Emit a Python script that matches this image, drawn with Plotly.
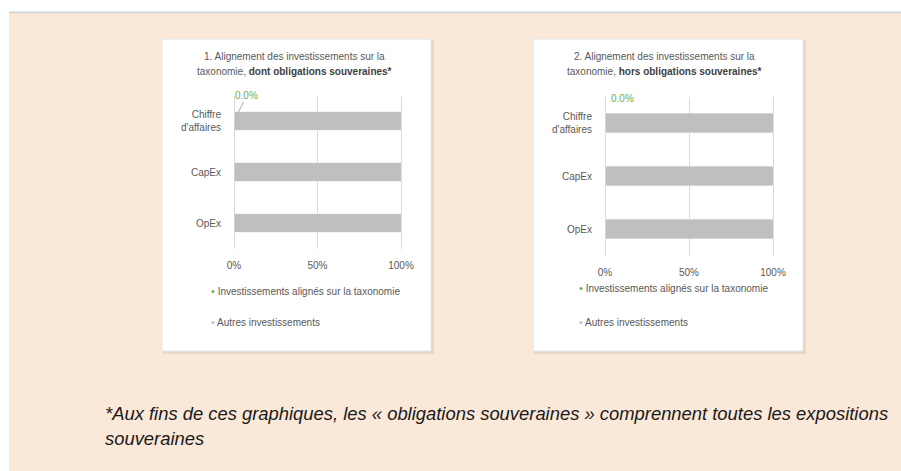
import plotly.graph_objects as go

# ---- data ----
categories = ["Chiffre<br>d'affaires", "CapEx", "OpEx"]
aligned_1 = [0.0, 0.0, 0.0]
others_1 = [1.0, 1.0, 1.0]
aligned_2 = [0.0, 0.0, 0.0]
others_2 = [1.0, 1.0, 1.0]
tick_vals = [0, 0.5, 1]
tick_text = ["0%", "50%", "100%"]
series_names = ["Investissements alignés sur la taxonomie", "Autres investissements"]
title_1 = ["1. Alignement des investissements sur la", "taxonomie, ", "dont obligations souveraines*"]
title_2 = ["2. Alignement des investissements sur la", "taxonomie, ", "hors obligations souveraines*"]
footnote = ["*Aux fins de ces graphiques, les « obligations souveraines » comprennent toutes les expositions",
            "souveraines"]

W, H = 901, 471
GREEN = "#70AD47"
GREY = "#BFBFBF"
TXT = "#595959"
BG = "#FAE8D8"
FONT = "Liberation Sans"
PAD = 0.02  # axis range padding so edge gridlines are drawn


def fx(x):
    return x / W


def fy(y):
    return 1 - y / H


fig = go.Figure()

panels = [
    dict(box=(162, 39, 431, 351), xd=(234, 401), yd=(95.5, 248.5), tc=294,
         lx=171, ly=277, gap=12, al=aligned_1, ot=others_1, title=title_1, arrow=True),
    dict(box=(533, 39, 803, 351), xd=(605, 773), yd=(96.5, 255.5), tc=664,
         lx=539, ly=274, gap=15, al=aligned_2, ot=others_2, title=title_2, arrow=False),
]

shapes = []
annotations = []
# beige area, grey top rule (paper itself is white)
shapes.append(dict(type="rect", xref="paper", yref="paper", x0=fx(9), x1=1, y0=0, y1=fy(13.5),
                   fillcolor=BG, line=dict(width=0), layer="below"))
shapes.append(dict(type="rect", xref="paper", yref="paper", x0=fx(9), x1=1, y0=fy(13.5), y1=fy(11.5),
                   fillcolor="#D6D6D6", line=dict(width=0), layer="below"))

for i, p in enumerate(panels):
    n = "" if i == 0 else str(i + 1)
    xa, ya = "x" + n, "y" + n
    lg = "legend" if i == 0 else "legend2"
    x0, y0, x1, y1 = p["box"]
    # shadow and panel
    shapes.append(dict(type="rect", xref="paper", yref="paper", x0=fx(x0 + 1), x1=fx(x1 + 3),
                       y0=fy(y1 + 3), y1=fy(y0 + 1), fillcolor="rgba(0,0,0,0.07)", line=dict(width=0),
                       layer="below"))
    shapes.append(dict(type="rect", xref="paper", yref="paper", x0=fx(x0), x1=fx(x1),
                       y0=fy(y1), y1=fy(y0), fillcolor="white", line=dict(color="#E6E6E6", width=1),
                       layer="below"))

    fig.add_trace(go.Bar(y=categories, x=p["al"], orientation="h", marker_color=GREEN,
                         xaxis=xa, yaxis=ya, showlegend=False, name=series_names[0]))
    fig.add_trace(go.Bar(y=categories, x=p["ot"], orientation="h", marker_color=GREY,
                         xaxis=xa, yaxis=ya, showlegend=False, name=series_names[1]))
    # legend entries
    for nm, col in [(series_names[0], GREEN), (series_names[1], GREY)]:
        fig.add_trace(go.Scatter(x=[None], y=[None], mode="markers",
                                 marker=dict(color="rgba(0,0,0,0)", size=1),
                                 xaxis=xa, yaxis=ya, legend=lg, legendgroup=nm + n,
                                 name=f'<span style="color:{col};font-size:11px">•</span> {nm}'))

    span = p["xd"][1] - p["xd"][0]
    dom = [fx(p["xd"][0] - PAD * span), fx(p["xd"][1] + PAD * span)]
    fig.layout[("xaxis" + n)] = dict(domain=dom, range=[-PAD, 1 + PAD],
                                     anchor=ya, tickvals=tick_vals, ticktext=tick_text, automargin=False,
                                     showgrid=True, gridcolor="#D9D9D9", gridwidth=1, zeroline=False,
                                     showline=False, ticks="outside", ticklen=7,
                                     tickcolor="rgba(0,0,0,0)", tickfont=dict(size=10, color=TXT, family=FONT),
                                     fixedrange=True)
    fig.layout[("yaxis" + n)] = dict(domain=[fy(p["yd"][1]), fy(p["yd"][0])], anchor=xa, automargin=False,
                                     autorange="reversed", showgrid=False, zeroline=False, showline=False,
                                     ticks="outside", ticklen=10 - PAD * span, tickcolor="rgba(0,0,0,0)",
                                     tickfont=dict(size=10, color=TXT, family=FONT), fixedrange=True)

    # data label of aligned share on first category
    lab = dict(x=p["al"][0], y=categories[0], xref=xa, yref=ya,
               text=f"{p['al'][0] * 100:.1f}%", font=dict(size=10, color=GREEN, family=FONT))
    if p["arrow"]:
        lab.update(showarrow=True, arrowhead=0, arrowwidth=1, arrowcolor="#A6A6A6",
                   ax=13, ay=-26, standoff=9)
    else:
        lab.update(showarrow=False, xshift=17, yshift=25)
    annotations.append(lab)

    # title
    t = p["title"]
    annotations.append(dict(x=fx(p["tc"]), y=fy(57), xref="paper", yref="paper", showarrow=False,
                            text=t[0], font=dict(size=10, color=TXT, family=FONT), xanchor="center", yanchor="middle"))
    annotations.append(dict(x=fx(p["tc"]), y=fy(72), xref="paper", yref="paper", showarrow=False,
                            text=f"{t[1]}<b style='color:#404040'>{t[2]}</b>",
                            font=dict(size=10, color=TXT, family=FONT), xanchor="center", yanchor="middle"))

    fig.layout[lg] = dict(x=fx(p["lx"]), y=fy(p["ly"]), xanchor="left", yanchor="top",
                          bgcolor="rgba(0,0,0,0)", font=dict(size=10, color=TXT, family=FONT),
                          tracegroupgap=p["gap"], itemclick=False, itemdoubleclick=False)

annotations.append(dict(x=fx(103), y=fy(413), xref="paper", yref="paper", showarrow=False,
                        text=footnote[0], font=dict(size=18.4, color="#1a1a1a", family=FONT, style="italic"),
                        xanchor="left", yanchor="middle"))
annotations.append(dict(x=fx(103), y=fy(438), xref="paper", yref="paper", showarrow=False,
                        text=footnote[1], font=dict(size=18.4, color="#1a1a1a", family=FONT, style="italic"),
                        xanchor="left", yanchor="middle"))

fig.update_layout(width=W, height=H, autosize=False,
                  margin=dict(l=0, r=0, t=0, b=0, pad=0, autoexpand=False),
                  paper_bgcolor="white", plot_bgcolor="rgba(0,0,0,0)", barmode="stack", bargap=0.64,
                  shapes=shapes, annotations=annotations, font=dict(family=FONT, color=TXT))

fig.write_html("out.html", config=dict(displayModeBar=False, responsive=False),
               post_script="document.body.style.margin='0px';document.body.style.overflow='hidden';"
                           "document.documentElement.style.overflow='hidden';")
